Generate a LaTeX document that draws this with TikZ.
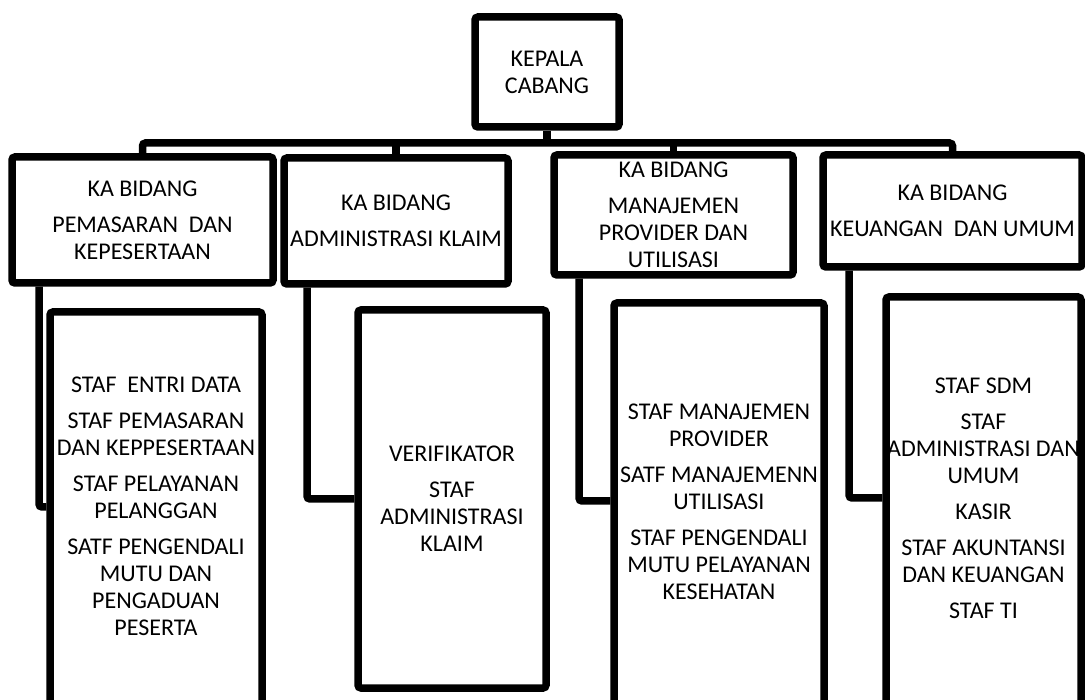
\documentclass[tikz,border=0pt]{standalone}
\usepackage{fontspec}
\setmainfont{Carlito}
\begin{document}
\begin{tikzpicture}[x=1pt,y=-1pt,
  txt/.style={font=\fontsize{24}{27}\selectfont},
  box/.style={draw,line width=7.5pt,rounded corners=3pt,align=center,inner sep=0pt,txt},
  lbl/.style={align=center,inner sep=0pt,txt},
  conn/.style={line width=7.5pt,rounded corners=3pt}]
\useasboundingbox (0,0) rectangle (1085,700);
\clip (0,0) rectangle (1085,700);
% top
\node[box,minimum width=144pt,minimum height=110pt] (top) at (547,72) {KEPALA\\CABANG};
% level 2
\node[box,minimum width=261pt,minimum height=126pt] (b1) at (142.5,220) {KA BIDANG\\[9pt]PEMASARAN~ DAN\\KEPESERTAAN};
\node[box,minimum width=224pt,minimum height=126pt] (b2) at (396,221) {KA BIDANG\\[9pt]ADMINISTRASI KLAIM};
\node[box,minimum width=239pt,minimum height=120pt] (b3) at (673.5,215) {KA BIDANG\\[9pt]MANAJEMEN\\PROVIDER DAN\\UTILISASI};
\node[box,minimum width=259pt,minimum height=112pt] (b4) at (952.5,211) {KA BIDANG\\[9pt]KEUANGAN~ DAN UMUM};
% staff boxes
\node[box,minimum width=212pt,minimum height=448pt] (s1) at (156,536) {};
\node[box,minimum width=188pt,minimum height=378pt] (s2) at (452,499) {VERIFIKATOR\\[9pt]STAF\\ADMINISTRASI\\KLAIM};
\node[box,minimum width=210pt,minimum height=457pt] (s3) at (719,531.5) {};
\node[box,minimum width=195pt,minimum height=463pt] (s4) at (983.5,528.5) {};
\node[lbl] (t1) at (156,506.5) {STAF~ ENTRI DATA\\[9pt]STAF PEMASARAN\\DAN KEPPESERTAAN\\[9pt]STAF PELAYANAN\\PELANGGAN\\[9pt]SATF PENGENDALI\\MUTU DAN\\PENGADUAN\\PESERTA};
\node[lbl] (t3) at (719,502) {STAF MANAJEMEN\\PROVIDER\\[9pt]SATF MANAJEMENN\\UTILISASI\\[9pt]STAF PENGENDALI\\MUTU PELAYANAN\\KESEHATAN};
\node[lbl] (t4) at (983.5,498) {STAF SDM\\[9pt]STAF\\ADMINISTRASI DAN\\UMUM\\[9pt]KASIR\\[9pt]STAF AKUNTANSI\\DAN KEUANGAN\\[9pt]STAF TI};
% bus
\coordinate (bus) at (0,143);
\draw[conn] (b1.north) |- (bus -| b4.north) -- (b4.north);
\draw[conn] (top.south) -- (top.south |- bus);
\draw[conn] (b2.north) -- (b2.north |- bus);
\draw[conn] (b3.north) -- (b3.north |- bus);
% elbows
\coordinate (e1) at (39,507);
\coordinate (e2) at (307,499);
\coordinate (e3) at (579,501);
\coordinate (e4) at (849,498);
\draw[conn] (e1 |- b1.south) |- (s1.west |- e1);
\draw[conn] (e2 |- b2.south) |- (s2.west |- e2);
\draw[conn] (e3 |- b3.south) |- (s3.west |- e3);
\draw[conn] (e4 |- b4.south) |- (s4.west |- e4);
\end{tikzpicture}
\end{document}
